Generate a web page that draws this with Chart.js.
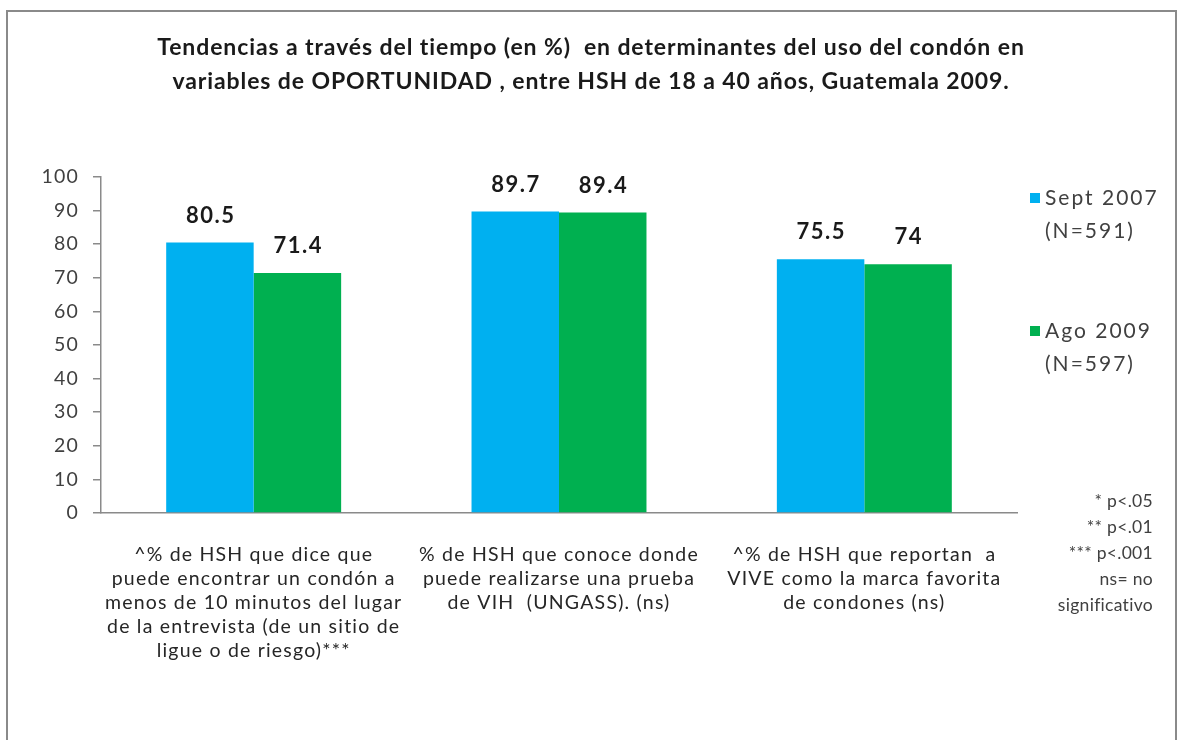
<!DOCTYPE html>
<html>
<head>
<meta charset="utf-8">
<script src="https://cdn.jsdelivr.net/npm/chart.js@4.4.1/dist/chart.umd.min.js"></script>
<style>
  html, body { margin: 0; padding: 0; background: #ffffff; }
  #wrap { position: relative; width: 1182px; height: 740px; }
</style>
</head>
<body>
<div id="wrap"><canvas id="c" width="1182" height="740"></canvas></div>
<script>
// ---- data ----
const titleLines = [
  'Tendencias a través del tiempo (en %)  en determinantes del uso del condón en',
  'variables de OPORTUNIDAD , entre HSH de 18 a 40 años, Guatemala 2009.'
];
const categories = [
  ['^% de HSH que dice que', 'puede encontrar un condón a', 'menos de 10 minutos del lugar', 'de la entrevista (de un sitio de', 'ligue o de riesgo)***'],
  ['% de HSH que conoce donde', 'puede realizarse una prueba', 'de VIH  (UNGASS). (ns)'],
  ['^% de HSH que reportan  a', 'VIVE como la marca favorita', 'de condones (ns)']
];
const seriesNames = ['Sept 2007', 'Ago 2009'];
const seriesN = ['(N=591)', '(N=597)'];
const sept2007 = [80.5, 89.7, 75.5];
const ago2009 = [71.4, 89.4, 74];
const valueLabels2007 = ['80.5', '89.7', '75.5'];
const valueLabels2009 = ['71.4', '89.4', '74'];
const yTicks = [0, 10, 20, 30, 40, 50, 60, 70, 80, 90, 100];
const footnoteLines = ['* p<.05', '** p<.01', '*** p<.001', 'ns= no', 'significativo'];

const FONT = 'Lato, "Open Sans", "DejaVu Sans", sans-serif';
const colors = ['#00B0F0', '#00B050'];
const valueLabels = [valueLabels2007, valueLabels2009];

const decorPlugin = {
  id: 'decor',
  beforeDraw(chart) {
    const ctx = chart.ctx;
    ctx.save();
    ctx.fillStyle = '#ffffff';
    ctx.fillRect(0, 0, chart.width, chart.height);
    // frame
    ctx.strokeStyle = '#8a8a8a';
    ctx.lineWidth = 2;
    ctx.beginPath();
    ctx.moveTo(7, 745);
    ctx.lineTo(7, 11);
    ctx.lineTo(1176, 11);
    ctx.lineTo(1176, 745);
    ctx.stroke();
    ctx.restore();
    ctx.letterSpacing = '1.2px';
  },
  afterDraw(chart) {
    const ctx = chart.ctx;
    ctx.save();
    // title
    ctx.fillStyle = '#1a1a1a';
    ctx.font = 'bold 23px ' + FONT;
    ctx.letterSpacing = '0.9px';
    ctx.textAlign = 'center';
    ctx.textBaseline = 'middle';
    ctx.fillText(titleLines[0], 591, 48);
    ctx.fillText(titleLines[1], 591, 82);
    // value labels
    ctx.font = 'bold 22px ' + FONT;
    ctx.letterSpacing = '1.5px';
    ctx.fillStyle = '#1a1a1a';
    chart.data.datasets.forEach((ds, di) => {
      const meta = chart.getDatasetMeta(di);
      meta.data.forEach((bar, i) => {
        ctx.fillText(valueLabels[di][i], bar.x + 0.75, bar.y - 27);
      });
    });
    // legend
    ctx.textAlign = 'left';
    ctx.font = '21px ' + FONT;
    ctx.letterSpacing = '2px';
    const legY = [198, 331];
    chart.data.datasets.forEach((ds, di) => {
      ctx.fillStyle = ds.backgroundColor;
      ctx.fillRect(1030, legY[di] - 5, 10, 10);
      ctx.fillStyle = '#404040';
      ctx.fillText(seriesNames[di], 1045, legY[di]);
      ctx.fillText(seriesN[di], 1045, legY[di] + 33);
    });
    // footnote
    ctx.textAlign = 'right';
    ctx.font = '17.5px ' + FONT;
    ctx.letterSpacing = '0.3px';
    ctx.fillStyle = '#404040';
    footnoteLines.forEach((t, i) => {
      ctx.fillText(t, 1153, 501 + i * 26);
    });
    ctx.restore();
    ctx.letterSpacing = '0px';
  }
};

new Chart(document.getElementById('c'), {
  type: 'bar',
  data: {
    labels: categories,
    datasets: [
      { label: seriesNames[0], data: sept2007, backgroundColor: colors[0], borderWidth: 0 },
      { label: seriesNames[1], data: ago2009, backgroundColor: colors[1], borderWidth: 0 }
    ]
  },
  options: {
    responsive: false,
    animation: false,
    devicePixelRatio: 1,
    layout: { padding: { left: 0, top: 177, right: 165, bottom: 0 } },
    plugins: { legend: { display: false }, title: { display: false }, tooltip: { enabled: false } },
    datasets: { bar: { barPercentage: 1.0, categoryPercentage: 0.573 } },
    scales: {
      x: {
        grid: { display: false, drawTicks: false },
        border: { display: true, color: '#8a8a8a', width: 1.5 },
        ticks: {
          color: '#262626',
          font: { family: FONT, size: 19.5, lineHeight: 1.23 },
          padding: 30,
          maxRotation: 0,
          autoSkip: false
        },
        afterFit(scale) { scale.height = 227; }
      },
      y: {
        min: 0,
        max: 100,
        afterBuildTicks(scale) { scale.ticks = yTicks.map(v => ({ value: v })); },
        grid: { display: true, drawOnChartArea: false, drawTicks: true, tickLength: 8, color: '#8a8a8a', lineWidth: 1.5 },
        border: { display: true, color: '#8a8a8a', width: 1.5 },
        ticks: {
          color: '#404040',
          font: { family: FONT, size: 19.5 },
          padding: 14
        },
        afterFit(scale) { scale.width = 101; }
      }
    }
  },
  plugins: [decorPlugin]
});
</script>
</body>
</html>
